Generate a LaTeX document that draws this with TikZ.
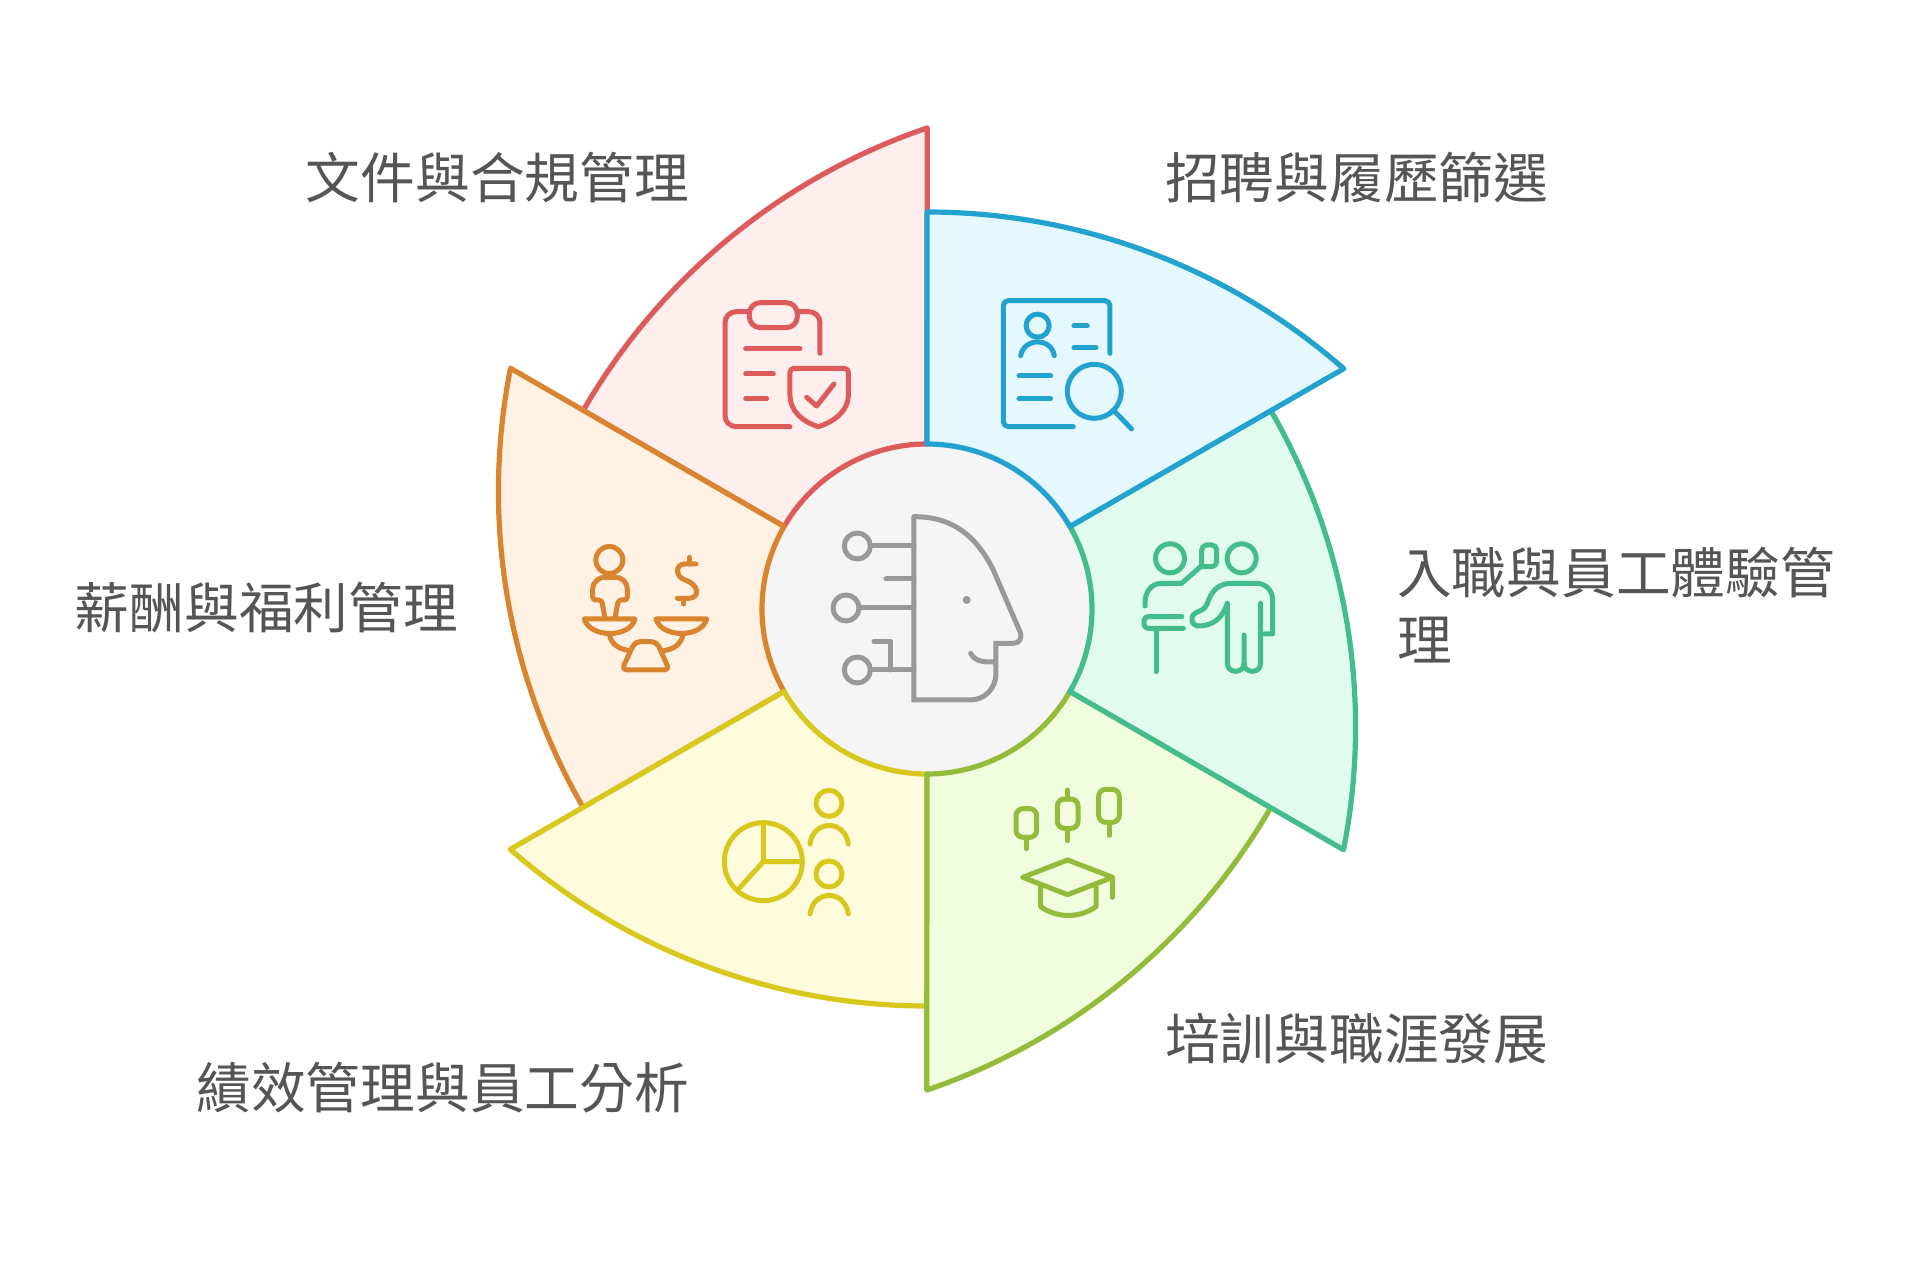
\documentclass[tikz,border=0pt]{standalone}
\usepackage{fontspec}
\setmainfont{Noto Sans CJK TC}
\definecolor{RedClr}{HTML}{DE5B5B}
\definecolor{RedFill}{HTML}{FFEEEE}
\definecolor{BlueClr}{HTML}{22A2CF}
\definecolor{BlueFill}{HTML}{E5F8FE}
\definecolor{GreenClr}{HTML}{42BD8B}
\definecolor{GreenFill}{HTML}{E1FCEF}
\definecolor{LimeClr}{HTML}{93BC3B}
\definecolor{LimeFill}{HTML}{F1FDDE}
\definecolor{YellowClr}{HTML}{D8C81E}
\definecolor{YellowFill}{HTML}{FFFBDD}
\definecolor{OrangeClr}{HTML}{D9842F}
\definecolor{OrangeFill}{HTML}{FFF1E3}
\definecolor{HeadClr}{HTML}{999999}
\definecolor{DiskFill}{HTML}{F5F5F5}
\definecolor{TextClr}{HTML}{555555}
\tikzset{
  petal/.style={line width=5.2pt,line join=round},
  icon/.style={line width=5pt,line cap=round,line join=round},
  zoomed/.style 2 args={shift={(#1,#2)},x=0.3333pt,y=-0.3333pt},
  label/.style={text=TextClr,inner sep=0pt,font=\fontsize{54.7}{67}\selectfont},
}
\newcommand{\DrawPetal}[3]{%
\begin{scope}[shift={(927,609)},rotate=#1,y=1pt]
\filldraw[petal,draw=#2,fill=#3] (0,165) -- (0,397) arc[start angle=90,end angle=48.8,radius=632.7pt] -- (30:165) arc[start angle=30,end angle=90,radius=165pt] -- cycle;
\end{scope}}

\begin{document}
\begin{tikzpicture}[x=1pt,y=-1pt]
\useasboundingbox (0,0) rectangle (1920,1271);

\fill[DiskFill] (927,609) circle[radius=165pt];

\DrawPetal{60}{RedClr}{RedFill}
\DrawPetal{120}{OrangeClr}{OrangeFill}
\DrawPetal{180}{YellowClr}{YellowFill}
\DrawPetal{240}{LimeClr}{LimeFill}
\DrawPetal{300}{GreenClr}{GreenFill}
\DrawPetal{0}{BlueClr}{BlueFill}

% head
\begin{scope}[zoomed={740}{480},icon,draw=HeadClr]
\draw[line join=miter] (522,110) -- (522,660) -- (690,660) .. controls (735,660) and (768,625) .. (768,580) -- (768,490) -- (820,490) .. controls (838,490) and (848,475) .. (840,455) -- (760,270) .. controls (710,170) and (640,110) .. (522,110);
\fill[HeadClr] (680,360) circle[radius=4pt];
\draw (692,520) .. controls (705,545) and (735,548) .. (765,545);
\draw (352,198) circle[radius=13pt] (318,384) circle[radius=13pt] (352,570) circle[radius=13pt];
\draw (392,198) -- (522,198) (438,297) -- (522,297) (358,384) -- (522,384) (392,570) -- (522,570);
\draw (402,484) -- (452,484) -- (452,570);
\end{scope}

% clipboard and shield
\begin{scope}[zoomed={680}{260},icon,draw=RedClr]
\draw[rounded corners=11pt] (420,280) -- (420,155) -- (355,155) (205,155) -- (135,155) -- (135,500) -- (330,500);
\draw[rounded corners=11pt] (208,128) rectangle (352,203);
\draw (197,266) -- (360,266) (197,342) -- (280,342) (197,416) -- (260,416);
\draw[rounded corners=4pt] (415,500) .. controls (365,485) and (330,450) .. (330,395) -- (330,325) -- (505,325) -- (505,395) .. controls (505,450) and (465,485) .. (415,500);
\draw (380,412) -- (410,438) -- (462,372);
\end{scope}

% cv and magnifier
\begin{scope}[zoomed={680}{260},icon,draw=BlueClr]
\draw[rounded corners=5pt] (1290,280) -- (1290,122) -- (970,122) -- (970,500) -- (1180,500);
\draw (1073,197) circle[radius=11.5pt];
\draw (1022,287) .. controls (1032,232) and (1114,232) .. (1123,287);
\draw (1182,198) -- (1222,198) (1182,263) -- (1248,263) (1017,348) -- (1112,348) (1017,416) -- (1112,416);
\draw (1243,394) circle[radius=27pt];
\draw (1300,450) -- (1355,507);
\end{scope}

% two people at desk
\begin{scope}[zoomed={1120}{500},icon,draw=GreenClr]
\draw (150,175) circle[radius=14.5pt] (365,175) circle[radius=14.5pt];
\draw[rounded corners=5pt] (245,195) -- (245,135) -- (290,135) -- (290,200) -- (245,200);
\draw (75,318) .. controls (72,275) and (95,250) .. (125,250) -- (185,250) -- (245,197);
\draw[rounded corners=4pt] (185,350) -- (72,350) -- (72,385) -- (190,385);
\draw (108,385) -- (108,515);
\draw (432,402) -- (458,402) -- (458,300) .. controls (458,270) and (435,250) .. (410,250) -- (335,250) .. controls (290,250) and (272,280) .. (262,310) .. controls (255,330) and (240,332) .. (228,338) .. controls (205,350) and (215,380) .. (240,378) .. controls (275,376) and (305,360) .. (322,310) -- (322,490) .. controls (322,522) and (372,522) .. (372,490) -- (372,405);
\draw (372,490) .. controls (372,522) and (422,522) .. (422,490) -- (422,310);
\end{scope}

% graduation cap and candles
\begin{scope}[zoomed={1000}{770},icon,draw=LimeClr]
\draw[rounded corners=7pt] (48,116) rectangle (110,202);
\draw (79,202) -- (79,236);
\draw[rounded corners=7pt] (172,87) rectangle (234,175);
\draw (203,60) -- (203,87) (203,175) -- (203,212);
\draw[rounded corners=7pt] (296,58) rectangle (358,157);
\draw (327,157) -- (327,196);
\draw (68,322) -- (203,270) -- (338,322) -- (203,374) -- cycle;
\draw (336,322) -- (336,382);
\draw (122,350) -- (122,410) .. controls (170,445) and (240,445) .. (288,410) -- (288,350);
\end{scope}

% pie chart and people
\begin{scope}[zoomed={700}{770},icon,draw=YellowClr]
\draw (190,275) circle[radius=39pt];
\draw (190,165) -- (190,275) -- (300,275) (190,275) -- (120,352);
\draw (387,100) circle[radius=13pt] (387,312) circle[radius=13pt];
\draw (330,222) .. controls (340,148) and (435,148) .. (445,222);
\draw (330,432) .. controls (340,358) and (435,358) .. (445,432);
\end{scope}

% scales
\begin{scope}[zoomed={550}{520},icon,draw=OrangeClr]
\draw (178,120) circle[radius=13.5pt];
\draw[rounded corners=3pt] (165,295) -- (155,240) -- (128,240) -- (128,215) .. controls (128,185) and (150,172) .. (170,172) -- (190,172) .. controls (212,172) and (232,185) .. (232,215) -- (232,240) -- (205,240) -- (195,295);
\draw (103,297) -- (255,297) .. controls (240,355) and (120,355) .. (103,297) -- cycle;
\draw (318,297) -- (470,297) .. controls (455,355) and (335,355) .. (318,297) -- cycle;
\draw (178,340) .. controls (180,370) and (205,388) .. (240,392);
\draw (400,340) .. controls (395,370) and (375,388) .. (340,392);
\draw[rounded corners=5pt] (255,365) -- (320,365) -- (358,450) -- (215,450) -- cycle;
\draw (438,132) -- (405,132) .. controls (375,132) and (375,170) .. (405,180) .. controls (450,195) and (450,235) .. (415,235) -- (382,235);
\draw (418,112) -- (418,132) (400,235) -- (400,252);
\end{scope}

\node[label,anchor=west] (recruit) at (1165,178) {招聘與履歷篩選};
\node[label,anchor=north west,align=left] (onboard) at (1397,547) {入職與員工體驗管\\理};
\node[label,anchor=west] (training) at (1165,1039) {培訓與職涯發展};
\node[label,anchor=east] (review) at (689,1088) {績效管理與員工分析};
\node[label,anchor=east] (salary) at (458,608) {薪酬與福利管理};
\node[label,anchor=east] (document) at (689,178) {文件與合規管理};
\end{tikzpicture}
\end{document}
